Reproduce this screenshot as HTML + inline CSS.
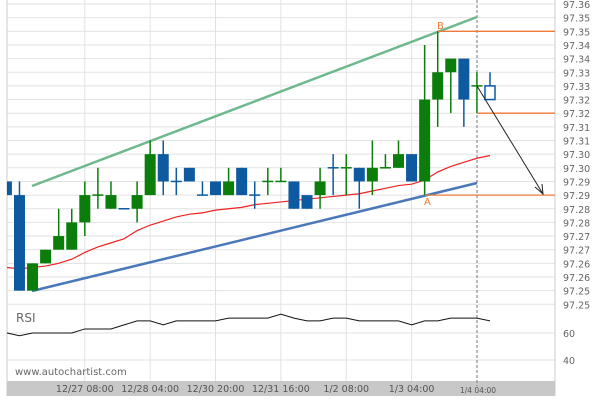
<!DOCTYPE html>
<html><head><meta charset="utf-8"><style>
body{margin:0;background:#fff;width:600px;height:400px;overflow:hidden;font-family:"DejaVu Sans","Liberation Sans",sans-serif}
svg{display:block}
text{font-family:"DejaVu Sans","Liberation Sans",sans-serif}
</style></head><body>
<svg id="c" width="600" height="400" xmlns="http://www.w3.org/2000/svg"></svg>
<script>
const opens  =[97.295,97.290,97.255,97.265,97.270,97.270,97.280,97.290,97.285,97.285,97.285,97.290,97.305,97.295,97.300,97.290,97.295,97.290,97.300,97.290,97.295,97.295,97.295,97.290,97.290,97.300,97.300,97.300,97.295,97.300,97.300,97.305,97.295,97.325,97.335,97.340,97.330,97.330];
const closes =[97.290,97.255,97.265,97.270,97.275,97.280,97.290,97.290,97.290,97.285,97.290,97.305,97.295,97.295,97.295,97.290,97.290,97.295,97.290,97.290,97.295,97.295,97.285,97.285,97.295,97.300,97.300,97.295,97.300,97.300,97.305,97.295,97.325,97.335,97.340,97.325,97.330,97.325];
const highs  =[97.295,97.295,97.265,97.270,97.285,97.285,97.295,97.300,97.295,97.285,97.295,97.310,97.310,97.300,97.300,97.295,97.295,97.300,97.300,97.295,97.300,97.300,97.295,97.290,97.300,97.305,97.305,97.300,97.310,97.305,97.310,97.305,97.345,97.350,97.340,97.340,97.335,97.335];
const lows   =[97.290,97.255,97.255,97.265,97.270,97.270,97.275,97.285,97.285,97.285,97.280,97.290,97.290,97.290,97.295,97.290,97.290,97.290,97.290,97.285,97.290,97.295,97.285,97.285,97.285,97.290,97.290,97.285,97.290,97.300,97.300,97.295,97.290,97.315,97.320,97.315,97.320,97.325];
const maVals =[97.2635,97.263,97.2635,97.264,97.265,97.2665,97.269,97.271,97.2725,97.274,97.277,97.279,97.2805,97.282,97.283,97.2835,97.2845,97.285,97.2855,97.2865,97.287,97.2875,97.288,97.2885,97.289,97.2895,97.290,97.2905,97.2915,97.2925,97.2935,97.294,97.2955,97.2985,97.3005,97.302,97.3035,97.3045];
const rsiVals=[60,58,60,60,60,60,63,63,63,66,69,69,66,69,69,69,69,71,71,71,71,74,71,69,69,71,71,69,69,69,69,66,69,69,71,71,71,69];
const priceTicks=["97.36","97.35","97.35","97.34","97.34","97.33","97.33","97.32","97.32","97.31","97.31","97.30","97.30","97.29","97.29","97.28","97.28","97.27","97.27","97.26","97.26","97.25","97.25"];
const timeLabels=["12/27 08:00","12/28 04:00","12/30 20:00","12/31 16:00","1/2 08:00","1/3 04:00"];
const timeIdx=[6,11,16,21,26,31];
const rsiTicks=[60,40];
const greenDoji=[7,20,21,26,29,36];

const svg=document.getElementById('c');
const NS='http://www.w3.org/2000/svg';
const L=7,R=555,T=4;
const yP=p=>T+(97.36-p)/0.005*13.65;
const xI=i=>6.4+i*13.07;
const yR=v=>333-(v-60)*1.35;
function el(t,a,parent){const e=document.createElementNS(NS,t);for(const k in a)e.setAttribute(k,a[k]);(parent||svg).appendChild(e);return e;}

let e;
priceTicks.forEach((t,k)=>{
  const y=T+k*13.65;
  e=el('line',{x1:L,x2:R,y1:y,y2:y,stroke:'#e2e2e2','stroke-width':1});
  
  e=el('text',{x:563,y:y+4,'font-size':9.5,fill:'#666'});e.textContent=t;
  
});
[333,360].forEach(y=>{e=el('line',{x1:L,x2:R,y1:y,y2:y,stroke:'#e2e2e2'});
  });
rsiTicks.forEach(v=>{e=el('text',{x:563,y:yR(v)+4,'font-size':9.5,fill:'#666'});e.textContent=v;
  });
timeIdx.forEach(i=>{const x=xI(i);e=el('line',{x1:x,x2:x,y1:0,y2:381,stroke:'#e2e2e2'});
  });
e=el('line',{x1:L,x2:L,y1:0,y2:396,stroke:'#ccc'});
e=el('line',{x1:R,x2:R,y1:0,y2:396,stroke:'#ccc'});
e=el('rect',{x:L,y:381,width:R-L,height:15,fill:'#c8c8c8'});

timeLabels.forEach((t,j)=>{e=el('text',{x:xI(timeIdx[j]),y:392,'font-size':9.5,fill:'#555','text-anchor':'middle'});e.textContent=t;
  });
e=el('text',{x:478,y:393,'font-size':7.5,fill:'#555','text-anchor':'middle'});e.textContent='1/4 04:00';

e=el('line',{x1:477,x2:477,y1:0,y2:386,stroke:'#777','stroke-dasharray':'3,2'});


const defs=el('defs',{});const cp=el('clipPath',{id:'cl'},defs);el('rect',{x:L,y:0,width:R-L,height:303},cp);
const g=el('g',{'clip-path':'url(#cl)'});


e=el('line',{x1:32,y1:186,x2:477,y2:17,stroke:'#6db88c','stroke-width':2.5},g);

e=el('line',{x1:32,y1:291,x2:477,y2:183,stroke:'#4a78b8','stroke-width':2.5},g);

e=el('polyline',{points:maVals.map((v,i)=>xI(i)+','+yP(v)).join(' '),fill:'none',stroke:'#ee2222','stroke-width':1.2},g);


opens.forEach((o,i)=>{
  const c=closes[i],x=xI(i);
  const col=(c>o||greenDoji.includes(i))?'#0a7d0a':'#0d5aa0';
  const gg=el('g',{},g);
  
  el('line',{x1:x,x2:x,y1:yP(highs[i]),y2:yP(lows[i]),stroke:col,'stroke-width':1.5},gg);
  const y1=yP(Math.max(o,c)),y2=yP(Math.min(o,c));
  if(i===37){el('rect',{x:x-5,y:y1,width:10,height:y2-y1,fill:'#fff',stroke:col,'stroke-width':1.5},gg);}
  else if(y2-y1<1){el('line',{x1:x-5.5,x2:x+5.5,y1:y1,y2:y1,stroke:col,'stroke-width':1.5},gg);}
  else el('rect',{x:x-5.5,y:y1,width:11,height:y2-y1,fill:col},gg);
});

e=el('line',{x1:438,x2:R,y1:yP(97.35),y2:yP(97.35),stroke:'#f07a3a','stroke-width':1.3});

e=el('line',{x1:477,x2:R,y1:yP(97.32),y2:yP(97.32),stroke:'#f07a3a','stroke-width':1.3});

e=el('line',{x1:425,x2:R,y1:yP(97.29),y2:yP(97.29),stroke:'#f07a3a','stroke-width':1.3});

e=el('text',{x:437,y:29,'font-size':10,fill:'#f07a3a'});e.textContent='B';

e=el('text',{x:424,y:205,'font-size':10,fill:'#f07a3a'});e.textContent='A';

e=el('line',{x1:477,y1:86,x2:543,y2:194,stroke:'#222','stroke-width':1});

e=el('polyline',{points:'535,187 543,194 542,184',fill:'none',stroke:'#222','stroke-width':1});


e=el('polyline',{points:rsiVals.map((v,i)=>Math.max(L,xI(i))+','+yR(v)).join(' '),fill:'none',stroke:'#111','stroke-width':1});

e=el('text',{x:16,y:322,'font-size':12,fill:'#666'});e.textContent='RSI';

e=el('text',{x:15,y:375,'font-size':10,fill:'#666'});e.textContent='www.autochartist.com';

</script>
</body></html>
